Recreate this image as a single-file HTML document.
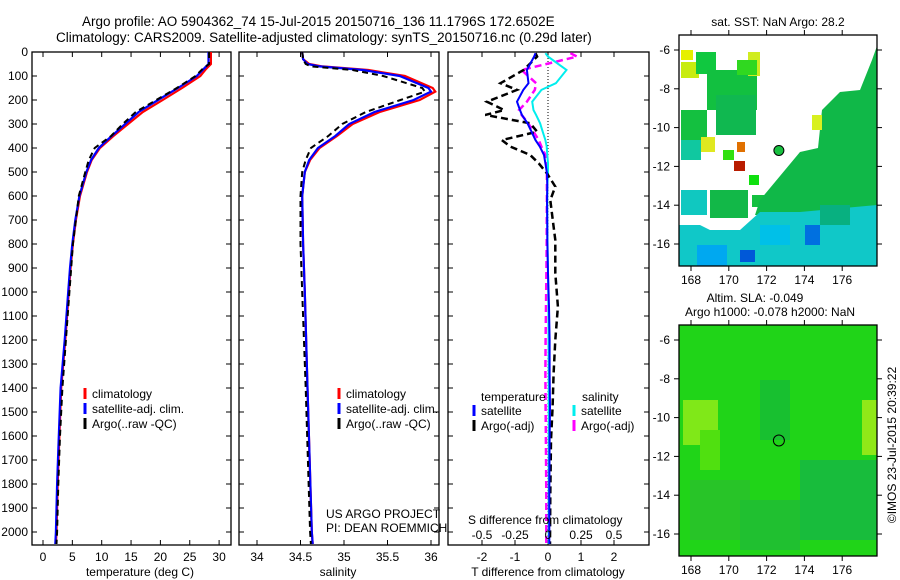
<!DOCTYPE html>
<html><head><meta charset="utf-8"><style>
body{margin:0;background:#fff}
svg{display:block;font-family:"Liberation Sans",sans-serif}
</style></head><body>
<svg id="fig" width="900" height="580" viewBox="0 0 900 580">
<text x="82" y="26" font-size="13.5">Argo profile: AO 5904362_74 15-Jul-2015 20150716_136 11.1796S 172.6502E</text>
<text x="56" y="42" font-size="13.5">Climatology: CARS2009. Satellite-adjusted climatology: synTS_20150716.nc (0.29d later)</text>
<g id="p1"></g>
<g id="p2"></g>
<g id="p3"></g>
<g id="m1"></g>
<g id="m2"></g>
</svg>
<script>
// ---- data ----
const tDepth=[0,50,70,100,150,200,250,300,350,400,450,500,600,700,800,900,1000,1200,1400,1600,1800,2000,2050];
const tClim=[28.6,28.6,27.8,26.8,23.7,20.4,17,14.5,12,9.7,8.3,7.5,6.3,5.6,5.1,4.7,4.4,3.8,3.1,2.8,2.5,2.3,2.2];
const tSat=[28.2,28.2,27.4,26.2,23,19.6,16.3,14,11.7,9.5,8.2,7.4,6.2,5.5,5.0,4.6,4.3,3.7,3.0,2.7,2.4,2.2,2.1];
const tArgo=[28.3,28.3,27.2,26,22.8,19.3,15.8,13.6,11.6,8.8,7.8,7.2,6.1,5.6,5.1,4.8,4.5,3.9,3.3,2.9,2.6,2.4,2.3];
const sDepth=[0,30,50,60,75,100,150,165,200,250,300,350,400,450,500,600,800,1000,1400,2000,2050];
const sClim=[34.52,34.53,34.6,34.75,35.28,35.7,36.02,36.05,35.87,35.41,35.1,34.92,34.72,34.61,34.55,34.52,34.53,34.55,34.58,34.63,34.64];
const sSat=[34.52,34.53,34.58,34.72,35.22,35.64,35.97,36.0,35.8,35.35,35.06,34.9,34.7,34.6,34.55,34.52,34.53,34.55,34.58,34.63,34.64];
const sArgo=[34.52,34.53,34.56,34.62,35.1,35.45,35.9,35.93,35.65,35.25,34.98,34.82,34.62,34.56,34.52,34.5,34.5,34.52,34.56,34.61,34.62];
const dDepth=[5,19,75,130,158,207,242,262,297,332,367,394,429,464,506,561,617,728,783,922,1061,1200,1339,1478,1617,1839,2050];
const dTsat=[-0.38,-0.42,-0.64,-0.59,-0.75,-0.94,-0.85,-0.79,-0.62,-0.5,-0.38,-0.25,-0.12,-0.08,-0.03,-0.02,-0.03,-0.02,-0.02,0,0.03,0.05,0.05,0.06,0.05,0.04,0.04];
const dTargo=[-0.38,-0.33,-0.74,-1.44,-0.94,-1.85,-1.33,-1.9,-0.54,-0.33,-1.4,-1.14,-0.54,-0.28,-0.03,0.22,0.07,0.17,0.22,0.22,0.3,0.22,0.17,0.14,0.09,0.07,0.06];
const dSsat=[-0.02,0.0,0.14,0.06,-0.05,-0.12,-0.11,-0.09,-0.06,-0.04,-0.02,-0.01,-0.005,0,0,-0.005,-0.005,-0.005,-0.004,0,0.003,0.004,0.005,0.005,0.005,0.005,0.005];
const dSargo=[0.17,0.22,-0.2,-0.09,-0.1,-0.16,-0.22,-0.2,-0.15,-0.11,-0.07,-0.05,-0.02,-0.01,-0.008,-0.008,-0.008,-0.01,-0.01,-0.012,-0.015,-0.018,-0.02,-0.018,-0.016,-0.013,-0.013];
const depthTicks=[0,100,200,300,400,500,600,700,800,900,1000,1100,1200,1300,1400,1500,1600,1700,1800,1900,2000];
const tTicks=[0,5,10,15,20,25,30];
const sTicks=[34,34.5,35,35.5,36];
const dtTicks=[-2,-1,0,1,2];
const dsTicks=[-0.5,-0.25,0,0.25,0.5];
const lonTicks=[168,170,172,174,176];
const latTicks=[-6,-8,-10,-12,-14,-16];
const argoLon=172.65, argoLat=-11.18;
// ---- helpers ----
const NS='http://www.w3.org/2000/svg';
function mk(parent,tag,at,txt){const e=document.createElementNS(NS,tag);for(const k in at)e.setAttribute(k,at[k]);if(txt!==undefined)e.textContent=txt;parent.appendChild(e);return e;}
const yD=d=>52+d*0.24, yTop=52, yBot=545;
function frame(g,x0,x1,name){const r=mk(g,'rect',{x:x0,y:yTop,width:x1-x0,height:yBot-yTop,fill:'none',stroke:'#000','stroke-width':1.3});}
function line(g,xs,ds,xf,col,w,dash,name){const p=mk(g,'polyline',{points:xs.map((v,i)=>xf(v).toFixed(1)+','+yD(ds[i]).toFixed(1)).join(' '),fill:'none',stroke:col,'stroke-width':w,'stroke-dasharray':dash||'none'});}
function xticks(g,ticks,xf,y,labelY,fmt){ticks.forEach(t=>{const x=xf(t);mk(g,'line',{x1:x,x2:x,y1:yBot,y2:yBot-5,stroke:'#000'});mk(g,'line',{x1:x,x2:x,y1:yTop,y2:yTop+5,stroke:'#000'});const l=mk(g,'text',{x:x,y:labelY,'font-size':12,'text-anchor':'middle'},fmt?fmt(t):t);});}
function legend(g,x,y,items){items.forEach((it,i)=>{mk(g,'line',{x1:x,x2:x,y1:y+i*15-10,y2:y+i*15+1,stroke:it[1],'stroke-width':3});const t=mk(g,'text',{x:x+7,y:y+i*15,'font-size':12},it[0]);});}
// ---- panel 1 ----
const p1=document.getElementById('p1');
const xT=v=>43+v*5.87;
frame(p1,32,231,'temperature-axes');
depthTicks.forEach(d=>{mk(p1,'line',{x1:32,x2:37,y1:yD(d),y2:yD(d),stroke:'#000'});mk(p1,'line',{x1:231,x2:226,y1:yD(d),y2:yD(d),stroke:'#000'});const l=mk(p1,'text',{x:28,y:yD(d)+4,'font-size':12,'text-anchor':'end'},d);});
xticks(p1,tTicks,xT,yBot,561);
mk(p1,'text',{x:140,y:576,'font-size':12,'text-anchor':'middle'},'temperature (deg C)');
line(p1,tClim,tDepth,xT,'#f00',2.2,null,'temp-climatology');
line(p1,tSat,tDepth,xT,'#00f',2.2,null,'temp-satellite');
line(p1,tArgo,tDepth,xT,'#000',2,'6,4','temp-argo');
legend(p1,85,398,[['climatology','#f00'],['satellite-adj. clim.','#00f'],['Argo(..raw -QC)','#000']]);
// ---- panel 2 ----
const p2=document.getElementById('p2');
const xS=v=>257+(v-34)*87;
frame(p2,239,439,'salinity-axes');
depthTicks.forEach(d=>{mk(p2,'line',{x1:239,x2:244,y1:yD(d),y2:yD(d),stroke:'#000'});mk(p2,'line',{x1:439,x2:434,y1:yD(d),y2:yD(d),stroke:'#000'});});
xticks(p2,sTicks,xS,yBot,561);
mk(p2,'text',{x:338,y:576,'font-size':12,'text-anchor':'middle'},'salinity');
line(p2,sClim,sDepth,xS,'#f00',2.2,null,'sal-climatology');
line(p2,sSat,sDepth,xS,'#00f',2.2,null,'sal-satellite');
line(p2,sArgo,sDepth,xS,'#000',2,'6,4','sal-argo');
legend(p2,339,398,[['climatology','#f00'],['satellite-adj. clim.','#00f'],['Argo(..raw -QC)','#000']]);
mk(p2,'text',{x:326,y:518,'font-size':12},'US ARGO PROJECT');
mk(p2,'text',{x:326,y:532,'font-size':12},'PI: DEAN ROEMMICH');
// ---- panel 3 ----
const p3=document.getElementById('p3');
const xDT=v=>548+v*33, xDS=v=>548+v*132;
mk(p3,'rect',{x:448,y:yTop,width:201,height:yBot-yTop,fill:'#fff'});
frame(p3,448,649,'difference-axes');
depthTicks.forEach(d=>{mk(p3,'line',{x1:448,x2:453,y1:yD(d),y2:yD(d),stroke:'#000'});mk(p3,'line',{x1:649,x2:644,y1:yD(d),y2:yD(d),stroke:'#000'});});
mk(p3,'line',{x1:548,x2:548,y1:yTop,y2:yBot,stroke:'#000','stroke-dasharray':'1,2'});
xticks(p3,dtTicks,xDT,yBot,561);
mk(p3,'text',{x:548,y:576,'font-size':12,'text-anchor':'middle'},'T difference from climatology');
line(p3,dSargo,dDepth,xDS,'#f0f',2.5,'7,4','sdiff-argo');
line(p3,dSsat,dDepth,xDS,'#0ee',2,null,'sdiff-satellite');
line(p3,dTargo,dDepth,xDT,'#000',2.5,'7,4','tdiff-argo');
line(p3,dTsat,dDepth,xDT,'#00f',2,null,'tdiff-satellite');
legend(p3,474,415,[['satellite','#00f'],['Argo(-adj)','#000']]);
legend(p3,574,415,[['satellite','#0ee'],['Argo(-adj)','#f0f']]);
mk(p3,'text',{x:481,y:401,'font-size':12},'temperature');
mk(p3,'text',{x:582,y:401,'font-size':12},'salinity');
mk(p3,'text',{x:468,y:524,'font-size':12},'S difference from climatology');
dsTicks.forEach(t=>{const l=mk(p3,'text',{x:xDS(t),y:539,'font-size':12,'text-anchor':'middle'},t);});
// ---- maps ----
const mx=lon=>691+(lon-168)*18.9;
function mapAxes(g,y0,y1,latY){mk(g,'rect',{x:679,y:y0,width:198,height:y1-y0,fill:'none',stroke:'#000','stroke-width':1.3});
lonTicks.forEach(t=>{mk(g,'line',{x1:mx(t),x2:mx(t),y1:y0,y2:y0-5,stroke:'#000'});mk(g,'line',{x1:mx(t),x2:mx(t),y1:y1,y2:y1+5,stroke:'#000'});const l=mk(g,'text',{x:mx(t),y:y1+18,'font-size':12,'text-anchor':'middle'},t);});
latTicks.forEach(t=>{const y=latY(t);mk(g,'line',{x1:679,x2:674,y1:y,y2:y,stroke:'#000'});mk(g,'line',{x1:877,x2:882,y1:y,y2:y,stroke:'#000'});const l=mk(g,'text',{x:670,y:y+4,'font-size':12,'text-anchor':'end'},t);});}
const m1=document.getElementById('m1');
const ly1=lat=>50+(-6-lat)*19.4;
const R=(g,x,y,w,h,c)=>mk(g,'rect',{x:x,y:y,width:w,height:h,fill:c});
[[681,50,12,10,'#e6f000'],[681,62,18,16,'#c8ec10'],[696,52,20,22,'#10c840'],[707,70,50,40,'#12c040'],[716,95,40,40,'#10b850'],[748,52,12,24,'#d0ec20'],[737,60,20,15,'#30d820'],[681,110,26,30,'#14c040'],[681,140,20,20,'#10c8a0'],[701,137,14,15,'#e0e820'],[723,150,11,10,'#30e010'],[734,161,11,10,'#b81c00'],[737,142,8,10,'#e07000'],[749,175,10,10,'#10e010'],[681,190,26,25,'#10c8c0'],[710,190,38,28,'#12b848'],[752,195,18,12,'#14c040']].forEach(r=>R(m1,...r));
mk(m1,'polygon',{points:'877,46 872,60 860,90 840,92 822,110 818,148 800,152 760,200 755,215 877,215',fill:'#10b848'});
mk(m1,'polygon',{points:'679,225 700,225 710,230 740,230 760,212 800,212 877,205 877,266 679,266',fill:'#10c8c8'});
[[760,225,30,20,'#00c0e8'],[805,225,15,20,'#0070e0'],[740,250,15,12,'#0058d8'],[697,245,30,21,'#00a8f0'],[820,205,30,20,'#08b080'],[812,115,10,15,'#d8f020']].forEach(r=>R(m1,...r));
mapAxes(m1,35,266,ly1);
mk(m1,'circle',{cx:mx(argoLon),cy:ly1(argoLat),r:5,fill:'#18c040',stroke:'#000','stroke-width':1});
mk(m1,'text',{x:778,y:26,'font-size':12,'text-anchor':'middle'},'sat. SST: NaN Argo: 28.2');
const m2=document.getElementById('m2');
const ly2=lat=>340+(-6-lat)*19.4;
R(m2,679,325,198,231,'#20d418');
[[683,400,35,45,'#80e818'],[700,430,20,40,'#50e010'],[862,400,15,55,'#90e818'],[760,380,30,60,'#18c030'],[800,460,77,80,'#18bc3c'],[690,480,60,60,'#28c428'],[740,500,60,50,'#20c030']].forEach(r=>R(m2,...r));
mapAxes(m2,325,556,ly2);
mk(m2,'circle',{cx:mx(argoLon),cy:ly2(argoLat),r:5.5,fill:'none',stroke:'#000','stroke-width':1});
mk(m2,'text',{x:755,y:302,'font-size':12,'text-anchor':'middle'},'Altim. SLA: -0.049');
mk(m2,'text',{x:770,y:316,'font-size':12,'text-anchor':'middle'},'Argo h1000: -0.078 h2000: NaN');
const c=mk(m2,'text',{x:0,y:0,'font-size':12,'text-anchor':'middle',transform:'translate(896,445) rotate(-90)'},'©IMOS 23-Jul-2015 20:39:22');


</script>
</body></html>
